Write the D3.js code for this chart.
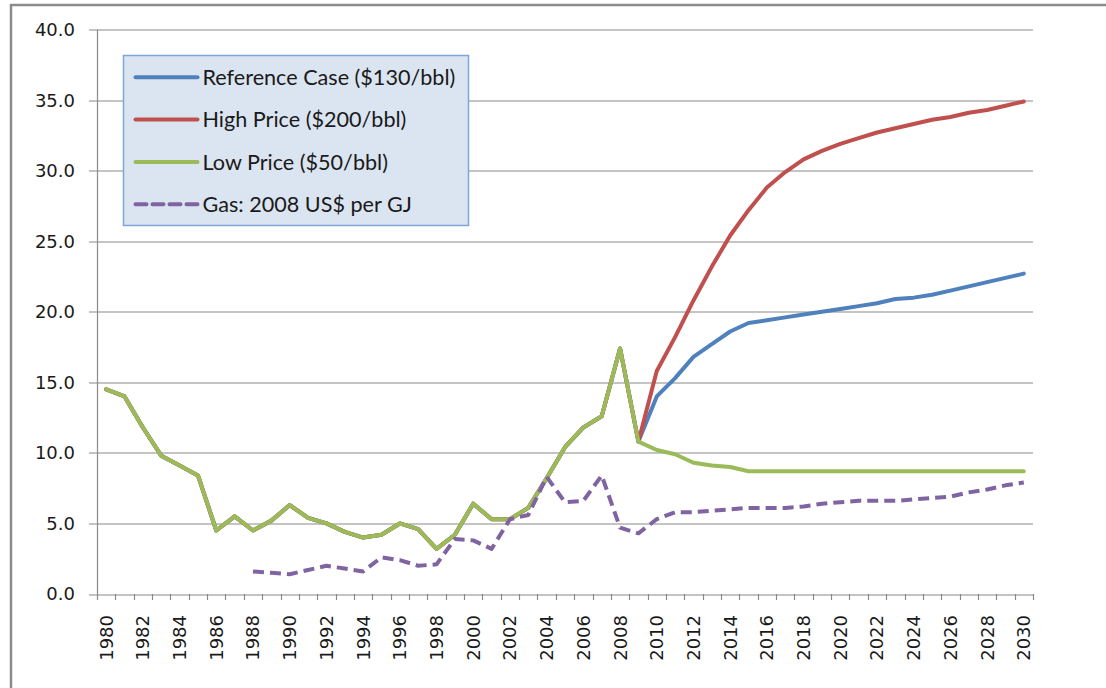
<!DOCTYPE html>
<html>
<head>
<meta charset="utf-8">
<script src="https://cdn.jsdelivr.net/npm/d3@7"></script>
<style>
  body { margin: 0; background: #fff; }
  .tick-label { font-family: "DejaVu Sans", Verdana, sans-serif; font-size: 18px; fill: #1a1a1a; }
  .legend-text { font-family: Lato, "Liberation Sans", sans-serif; font-size: 21.6px; fill: #1a1a1a; }
</style>
</head>
<body>
<div class="svg-wrapper"></div>
<script>
// years on the category axis
var years = d3.range(1980, 2031);

// shared history 1980-2009
var pastPrices = [14.5, 14.0, 11.8, 9.8, 9.1, 8.4, 4.5, 5.5, 4.5, 5.2,
                  6.3, 5.4, 5.0, 4.4, 4.0, 4.2, 5.0, 4.6, 3.2, 4.2,
                  6.4, 5.3, 5.3, 6.1, 8.2, 10.4, 11.8, 12.6, 17.4, 10.8];

// projections 2010-2030
var refProj  = [14.0, 15.3, 16.8, 17.7, 18.6, 19.2, 19.4, 19.6, 19.8, 20.0,
                20.2, 20.4, 20.6, 20.9, 21.0, 21.2, 21.5, 21.8, 22.1, 22.4, 22.7];
var highProj = [15.8, 18.2, 20.8, 23.2, 25.4, 27.2, 28.8, 29.9, 30.8, 31.4,
                31.9, 32.3, 32.7, 33.0, 33.3, 33.6, 33.8, 34.1, 34.3, 34.6, 34.9];
var lowProj  = [10.2, 9.9, 9.3, 9.1, 9.0, 8.7, 8.7, 8.7, 8.7, 8.7,
                8.7, 8.7, 8.7, 8.7, 8.7, 8.7, 8.7, 8.7, 8.7, 8.7, 8.7];

// gas 1988-2030
var gasStart = 1988;
var gas = [1.6, 1.5, 1.4, 1.7, 2.0, 1.8, 1.6, 2.6, 2.4, 2.0,
           2.1, 3.9, 3.8, 3.2, 5.3, 5.6, 8.3, 6.5, 6.6, 8.4,
           4.7, 4.3, 5.3, 5.8, 5.8, 5.9, 6.0, 6.1, 6.1, 6.1,
           6.2, 6.4, 6.5, 6.6, 6.6, 6.6, 6.7, 6.8, 6.9, 7.2,
           7.4, 7.7, 7.9];

var yTicks = [0, 5, 10, 15, 20, 25, 30, 35, 40];

var seriesNames = ["Reference Case ($130/bbl)", "High Price ($200/bbl)",
                   "Low Price ($50/bbl)", "Gas: 2008 US$ per GJ"];
var seriesColors = ["#4f81bd", "#c0504d", "#9bbb59", "#8064a2"];

function toPoints(values, start) {
  return values.map(function(v, i) { return { year: start + i, value: v }; });
}

var arranged = [
  { name: seriesNames[0], color: seriesColors[0], dashed: false, values: toPoints(pastPrices.concat(refProj), 1980) },
  { name: seriesNames[1], color: seriesColors[1], dashed: false, values: toPoints(pastPrices.concat(highProj), 1980) },
  { name: seriesNames[2], color: seriesColors[2], dashed: false, values: toPoints(pastPrices.concat(lowProj), 1980) },
  { name: seriesNames[3], color: seriesColors[3], dashed: true,  values: toPoints(gas, gasStart) }
];

var W = 1106, H = 688;
var margin = {top: 29.5, right: 73, bottom: 94, left: 97},
    width  = W - margin.left - margin.right,
    height = H - margin.top - margin.bottom;

var svg = d3.select(".svg-wrapper").append("svg")
  .attr("width", W)
  .attr("height", H);

// outer frame (left and top edges visible)
svg.append("path")
  .attr("d", "M11,688V5H1106")
  .attr("fill", "none")
  .attr("stroke", "#8c8c8c")
  .attr("stroke-width", 2.5);

var g = svg.append("g")
  .attr("transform", "translate(" + margin.left + "," + margin.top + ")");

var xScale = d3.scaleBand().domain(years).range([0, width]).padding(0),
    yScale = d3.scaleLinear().domain([0, 40]).range([height, 0]);

var gridColor = "#8a8a8a";

// gridlines + y ticks
g.selectAll(".grid")
  .data(yTicks)
  .enter().append("line")
    .attr("class", "grid")
    .attr("x1", -8)
    .attr("x2", width)
    .attr("y1", function(d) { return Math.round(yScale(d)) + 0.5; })
    .attr("y2", function(d) { return Math.round(yScale(d)) + 0.5; })
    .attr("stroke", gridColor)
    .attr("stroke-width", 1.2);

g.selectAll(".ylabel")
  .data(yTicks)
  .enter().append("text")
    .attr("class", "tick-label")
    .attr("x", -22)
    .attr("y", function(d) { return yScale(d); })
    .attr("dy", "0.36em")
    .attr("text-anchor", "end")
    .text(function(d) { return d3.format(".1f")(d); });

// y axis line
g.append("line")
  .attr("x1", 0.5).attr("x2", 0.5)
  .attr("y1", 0).attr("y2", height)
  .attr("stroke", gridColor)
  .attr("stroke-width", 1.2);

// x ticks at category boundaries
var bounds = years.map(function(y) { return xScale(y); }).concat([width]);
g.selectAll(".xtick")
  .data(bounds)
  .enter().append("line")
    .attr("x1", function(d) { return Math.round(d) + 0.5; })
    .attr("x2", function(d) { return Math.round(d) + 0.5; })
    .attr("y1", height)
    .attr("y2", height + 6)
    .attr("stroke", gridColor)
    .attr("stroke-width", 1.2);

function cx(year) { return xScale(year) + xScale.bandwidth() / 2; }

g.selectAll(".xlabel")
  .data(years.filter(function(y) { return y % 2 === 0; }))
  .enter().append("text")
    .attr("class", "tick-label")
    .attr("text-anchor", "end")
    .attr("transform", function(d) {
      return "translate(" + cx(d) + "," + (height + 21) + ") rotate(-90)";
    })
    .attr("dy", "0.36em")
    .text(function(d) { return d; });

var line = d3.line()
  .x(function(d) { return cx(d.year); })
  .y(function(d) { return yScale(d.value); });

g.selectAll(".series")
  .data(arranged)
  .enter().append("path")
    .attr("class", "series")
    .attr("d", function(d) { return line(d.values); })
    .attr("fill", "none")
    .attr("stroke", function(d) { return d.color; })
    .attr("stroke-width", 4)
    .attr("stroke-linejoin", "round")
    .attr("stroke-linecap", function(d) { return d.dashed ? "butt" : "round"; })
    .attr("stroke-dasharray", function(d) { return d.dashed ? "11,6" : null; });

// legend
var legend = svg.append("g").attr("transform", "translate(123.5,55.5)");
legend.append("rect")
  .attr("width", 345)
  .attr("height", 170)
  .attr("fill", "#dbe5f1")
  .attr("stroke", "#7fa6d6")
  .attr("stroke-width", 1.5);

var item = legend.selectAll(".item")
  .data(arranged)
  .enter().append("g")
    .attr("class", "item")
    .attr("transform", function(d, i) { return "translate(0," + (21.8 + i * 42.3) + ")"; });

item.append("line")
  .attr("x1", 12).attr("x2", 74)
  .attr("stroke", function(d) { return d.color; })
  .attr("stroke-width", 4)
  .attr("stroke-linecap", "round")
  .attr("stroke-dasharray", function(d) { return d.dashed ? "11,6" : null; });

item.append("text")
  .attr("class", "legend-text")
  .attr("x", 79)
  .attr("dy", "0.36em")
  .text(function(d) { return d.name; });
</script>
</body>
</html>
